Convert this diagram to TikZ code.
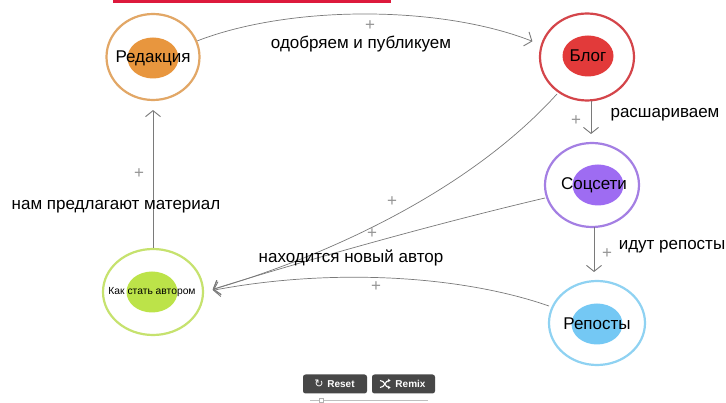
\documentclass[tikz,border=0pt]{standalone}
\usepackage{fontspec}
\setmainfont{Liberation Sans}
\newfontfamily\symfont{DejaVu Sans}
\usetikzlibrary{shapes.geometric,arrows.meta}
\definecolor{orrng}{HTML}{E2A766}
\definecolor{orin}{HTML}{E8963E}
\definecolor{rdrng}{HTML}{D4454A}
\definecolor{rdin}{HTML}{E23A3A}
\definecolor{purng}{HTML}{A47FE3}
\definecolor{puin}{HTML}{9E6CF2}
\definecolor{blrng}{HTML}{8FD2F2}
\definecolor{blin}{HTML}{74C8F4}
\definecolor{grrng}{HTML}{C6E26E}
\definecolor{grin}{HTML}{BCE349}
\definecolor{edgec}{HTML}{7A7A7A}
\definecolor{btn}{HTML}{474747}
\tikzset{
  ring/.style={ellipse, draw=#1, line width=2.2pt, fill=white, inner sep=0pt},
  core/.style={ellipse, fill=#1, inner sep=0pt, minimum width=51pt, minimum height=41pt},
  ntext/.style={text=black, font=\fontsize{17}{19}\selectfont, inner sep=0pt},
  link/.style={draw=edgec, line width=0.7pt, -{Straight Barb[length=6pt,width=15pt,line width=0.9pt]}, shorten >=9pt},
  lbl/.style={font=\fontsize{17}{19}\selectfont, text=black, inner sep=0pt},
  plus/.style={font=\fontsize{17}{17}\selectfont, text=edgec!80, inner sep=0pt},
  button/.style={fill=btn, rounded corners=2.5pt, minimum height=19pt, text=white, font=\bfseries\fontsize{10}{12}\selectfont, inner sep=0pt},
  icon/.style={text=white, font=\symfont\fontsize{11}{12}\selectfont, inner sep=0pt}
}
\begin{document}
\begin{tikzpicture}[x=1pt,y=-1pt]
\useasboundingbox (0,0) rectangle (726,403);
\fill[white] (0,0) rectangle (726,403);
% red link bar at top
\fill[red!85!blue!90] (113,0) rectangle (391,3.2);

% nodes
\node[ring=orrng, minimum width=93pt, minimum height=86pt] (red) at (153,57) {};
\node[core=orin] (redi) at (153,58) {};
\node[ntext] (redt) at (153,58) {Редакция};
\node[ring=rdrng, minimum width=94pt, minimum height=87pt] (blog) at (587,57) {};
\node[core=rdin] (blogi) at (588,56) {};
\node[ntext] (blogt) at (588,56) {Блог};
\node[ring=purng, minimum width=94pt, minimum height=84pt] (soc) at (592,185) {};
\node[core=puin] (soci) at (598,185) {};
\node[ntext] (soct) at (594,185) {Соцсети};
\node[ring=blrng, minimum width=96pt, minimum height=84pt] (rep) at (597,323) {};
\node[core=blin] (repi) at (597,324) {};
\node[ntext] (rept) at (597,324) {Репосты};
\node[ring=grrng, minimum width=100pt, minimum height=86pt] (auth) at (153,292) {};
\node[core=grin] (authi) at (152,292) {};
\node[ntext, font=\fontsize{10.3}{12}\selectfont] (autht) at (152,292) {Как стать автором};

% edges
\draw[link] (red.20) .. controls (290,5) and (440,5) .. (blog.165);
\draw[link] (591,101) -- (591,143);
\draw[link] (594,227) -- (594,281);
\draw[link] (557,94) .. controls (470,190) and (330,255) .. (auth.east);
\draw[link] (545,198) .. controls (430,225) and (300,262) .. (auth.east);
\draw[link] (549,306) .. controls (460,275) and (330,268) .. (auth.east);
\draw[link] (auth.north) -- (red.south);

% labels
\node[plus] (p1) at (370,26) {+};
\node[lbl] (l1) at (361,44) {одобряем и публикуем};
\node[plus] (p2) at (576,121) {+};
\node[lbl] (l2) at (665,115) {расшариваем};
\node[plus] (p3) at (607,254) {+};
\node[lbl] (l3) at (672,247) {идут репосты};
\node[plus] (p4) at (392,202) {+};
\node[plus] (p5) at (372,234) {+};
\node[lbl] (l4) at (351,258) {находится новый автор};
\node[plus] (p6) at (376,287) {+};
\node[plus] (p7) at (139,174) {+};
\node[lbl] (l5) at (116,207) {нам предлагают материал};

% buttons
\node[button, minimum width=64pt] (reset) at (335,384) {\hspace{12pt}Reset};
\node[icon] (reseticon) at (319,384) {↻};
\node[button, minimum width=63pt] (remix) at (403.5,384) {\hspace{14pt}Remix};
\coordinate (rm) at (385,384);
\draw[white, line width=1.1pt, -{Stealth[length=2.5pt,width=3.5pt]}] ([shift={(-5,-3.5)}]rm) .. controls ([shift={(0,-3.5)}]rm) and ([shift={(0,3.5)}]rm) .. ([shift={(5.5,3.5)}]rm);
\draw[white, line width=1.1pt, -{Stealth[length=2.5pt,width=3.5pt]}] ([shift={(-5,3.5)}]rm) .. controls ([shift={(0,3.5)}]rm) and ([shift={(0,-3.5)}]rm) .. ([shift={(5.5,-3.5)}]rm);
% slider
\draw[gray!50, line width=0.8pt] (310,400) -- (428,400);
\node[draw=gray!60, fill=white, minimum size=4pt, inner sep=0pt] (handle) at (321,400) {};
\end{tikzpicture}
\end{document}
